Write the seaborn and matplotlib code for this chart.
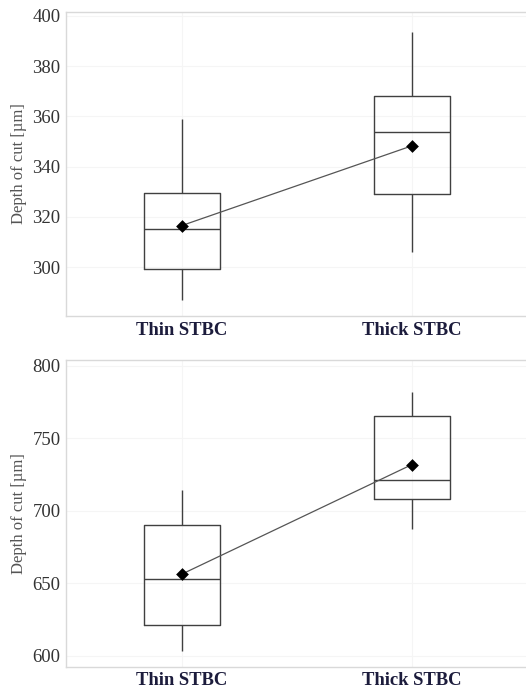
import pandas as pd
import numpy as np
import matplotlib.pyplot as plt
import seaborn as sns

groups = ['Thin STBC', 'Thick STBC']

# five-number summaries: min, Q1, median, Q3, max
thin_top = [287, 299.2, 315.3, 329.6, 359]
thick_top = [305.8, 329.1, 353.6, 368, 393.8]
means_top = [316.5, 348.3]

thin_bottom = [603.5, 621.2, 653, 690.5, 714.4]
thick_bottom = [687.3, 708, 721.1, 765.5, 782]
means_bottom = [656.2, 731.9]

sns.set_style('white')
plt.rcParams['font.family'] = ['Liberation Serif', 'DejaVu Serif']

fig = plt.figure(figsize=(5.26, 6.91), dpi=100)
ax1 = fig.add_axes([0.1255, 0.5427, 0.88, 0.44])
ax2 = fig.add_axes([0.1255, 0.0352, 0.88, 0.4438])


def panel(ax, thin, thick, means, ylim, yticks):
    data = pd.DataFrame({
        'group': [groups[0]] * len(thin) + [groups[1]] * len(thick),
        'depth': thin + thick,
    })
    sns.boxplot(data=data, x='group', y='depth', order=groups, whis=(0, 100),
                width=0.33, fill=False, color='#404040', linewidth=1.0,
                capprops={'linewidth': 0}, ax=ax, zorder=2)
    sns.pointplot(x=groups, y=means, order=groups, color='#555555', markers='',
                  linewidth=0.9, errorbar=None, ax=ax, zorder=3)
    sns.stripplot(x=groups, y=means, order=groups, color='black', marker='D',
                  size=6.5, jitter=False, ax=ax, zorder=4)
    ax.set_xlim(-0.502, 1.507)
    ax.set_ylim(*ylim)
    ax.set_yticks(yticks)
    ax.set_xlabel('')
    ax.set_ylabel('Depth of cut [µm]', fontsize=12, color='#555555')
    ax.grid(True, color='#f5f5f5', linewidth=0.8)
    ax.set_axisbelow(True)
    for s in ['left', 'bottom', 'top']:
        ax.spines[s].set_color('#d9d9d9')
        ax.spines[s].set_linewidth(1.0)
    ax.spines['right'].set_visible(False)
    ax.tick_params(axis='y', length=0, labelsize=13.5, labelcolor='#333333', pad=4)
    ax.tick_params(axis='x', length=0, pad=4)
    for lab in ax.get_xticklabels():
        lab.set_fontweight('bold')
        lab.set_fontsize(13.4)
        lab.set_color('#1c1c3c')


panel(ax1, thin_top, thick_top, means_top, (280.5, 401.6), [300, 320, 340, 360, 380, 400])
panel(ax2, thin_bottom, thick_bottom, means_bottom, (592.4, 804), [600, 650, 700, 750, 800])

fig.savefig('out.png', dpi=100)
